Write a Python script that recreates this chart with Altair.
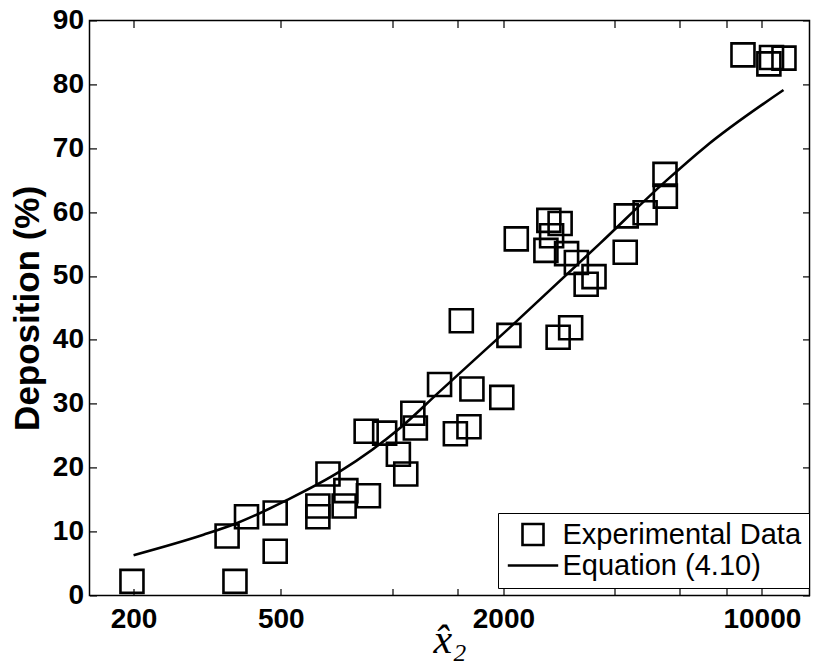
import altair as alt
import pandas as pd

# ---- data ----
x_data = [198, 376, 358, 404, 483, 483, 630, 630, 671, 750, 742, 863, 851, 955,
          1040, 1089, 1138, 1156, 1344, 1483, 1614, 1644, 1539, 1980, 2070, 2167,
          2812, 3040, 2606, 2654, 2847, 2700, 2964, 3150, 3348, 3516, 4297, 4833,
          5482, 5470, 4270, 8889, 10444, 10617, 11473]
y_data = [2.2, 2.2, 9.3, 12.3, 12.9, 6.9, 14.0, 12.3, 19.0, 16.4, 14.0, 15.6, 25.7, 25.4,
          22.1, 19.0, 28.5, 26.2, 33.0, 25.3, 26.4, 32.3, 43.0, 31.0, 40.7, 55.8,
          40.4, 41.9, 54.0, 58.7, 58.2, 56.3, 53.5, 52.1, 48.7, 49.9, 59.4, 59.9,
          62.5, 65.9, 53.7, 84.6, 83.2, 84.2, 84.1]
x_curve = [200, 309, 380, 519, 723, 1051, 1344, 2070, 3651, 5533, 7024, 11440]
y_curve = [6.3, 9.5, 11.3, 14.9, 19.4, 26.2, 31.9, 41.8, 55.1, 65.0, 70.2, 79.1]

series = ["Experimental Data", "Equation (4.10)"]
major_x_ticks = [200, 500, 2000, 10000]
minor_x_ticks = [1000, 1500, 4000, 6000, 8000]
y_ticks = [0, 10, 20, 30, 40, 50, 60, 70, 80, 90]
x_domain = [152, 13450]
y_domain = [0, 90]

pts = pd.DataFrame({"x": x_data, "y": y_data, "s": series[0]})
crv = pd.DataFrame({"x": x_curve, "y": y_curve})

FONT = "Liberation Sans"
TICK = 7

xscale = alt.Scale(type="log", domain=x_domain, nice=False)
yscale = alt.Scale(domain=y_domain, nice=False, zero=False)

all_x_ticks = sorted(major_x_ticks + minor_x_ticks)
major_str = ",".join(str(v) for v in major_x_ticks)
label_expr = f"indexof([{major_str}], datum.value) >= 0 ? datum.value + '' : ''"

x_bottom = alt.Axis(orient="bottom", values=all_x_ticks, labelExpr=label_expr,
                    offset=-TICK, tickSize=TICK, domain=False, grid=False,
                    labelPadding=10, labelFont=FONT, labelFontSize=28,
                    labelFontWeight="bold", labelColor="black", labelFlush=False,
                    labelOverlap=False, tickColor="black", tickWidth=1.2,
                    title="x\u0302\u2082", titleFont="Liberation Serif",
                    titleFontStyle="italic", titleFontWeight="normal",
                    titleFontSize=42, titleColor="black", titlePadding=-14)
x_top = alt.Axis(orient="top", values=all_x_ticks, offset=-TICK, tickSize=TICK,
                 domain=False, grid=False, labels=False, title=None,
                 tickColor="black", tickWidth=1.2)
y_left = alt.Axis(orient="left", values=y_ticks, offset=-TICK, tickSize=TICK,
                  domain=False, grid=False, labelPadding=6, labelFont=FONT,
                  labelFontSize=28, labelFontWeight="bold", labelColor="black",
                  labelFlush=False, labelOverlap=False, tickColor="black", tickWidth=1.2,
                  title="Deposition (%)", titleFont=FONT, titleFontSize=35,
                  titleFontWeight="bold", titleColor="black", titlePadding=7)
y_right = alt.Axis(orient="right", values=y_ticks, offset=-TICK, tickSize=TICK,
                   domain=False, grid=False, labels=False, title=None,
                   tickColor="black", tickWidth=1.2)

shape_scale = alt.Scale(domain=series, range=["square", "M-2.4,0H2.4"])

points = alt.Chart(pts).mark_point(filled=False, size=529, strokeWidth=2.6,
                                   color="black", opacity=1).encode(
    x=alt.X("x:Q", scale=xscale, axis=x_bottom),
    y=alt.Y("y:Q", scale=yscale, axis=y_left),
    shape=alt.Shape("s:N", scale=shape_scale,
                    legend=alt.Legend(orient="none", legendX=408.5, legendY=492.6,
                                      title=None, fillColor="white", strokeColor="black",
                                      padding=7, labelFont=FONT, labelFontSize=29,
                                      labelColor="black", labelLimit=400, symbolSize=441,
                                      symbolStrokeWidth=2.6, symbolStrokeColor="black",
                                      symbolFillColor="transparent", symbolOffset=13.5,
                                      labelOffset=15, rowPadding=0)),
)

curve = alt.Chart(crv).mark_line(color="black", strokeWidth=2.6,
                                 interpolate="monotone").encode(
    x=alt.X("x:Q", scale=xscale, axis=x_top),
    y=alt.Y("y:Q", scale=yscale, axis=y_right),
)

chart = alt.layer(curve, points).resolve_scale(
    x="shared", y="shared"
).resolve_axis(
    x="independent", y="independent"
).properties(
    width=720, height=575,
    padding={"left": 89.5, "top": 20.4, "right": 6.5, "bottom": 67.1},
    autosize=alt.AutoSizeParams(type="none"),
    background="white",
).configure_view(stroke="black", strokeWidth=1.5)

chart.save("out.html", embed_options={"renderer": "svg", "actions": False})
